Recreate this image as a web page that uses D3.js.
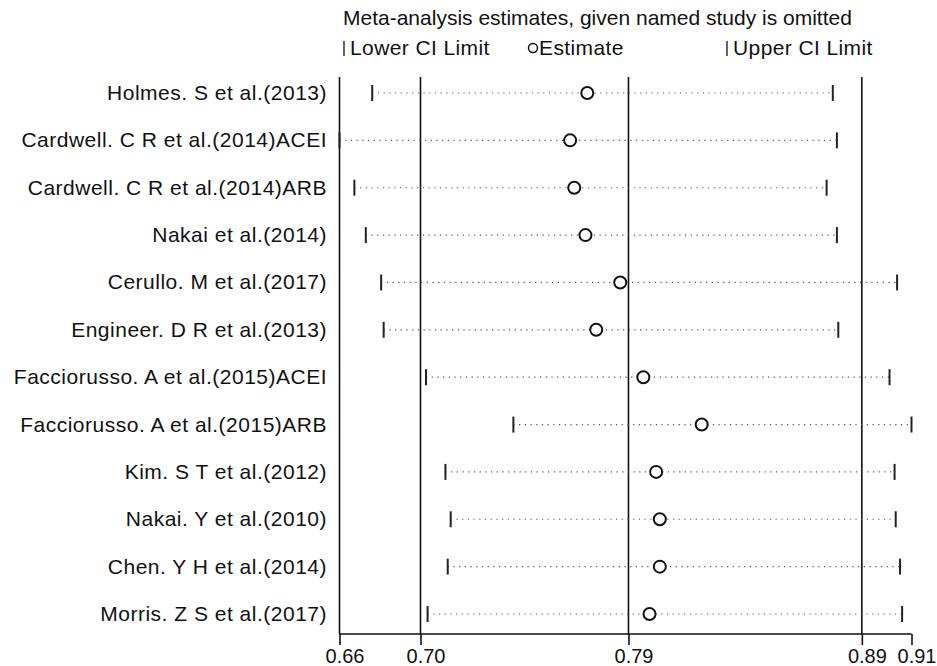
<!DOCTYPE html>
<html>
<head>
<meta charset="utf-8">
<script src="https://cdn.jsdelivr.net/npm/d3@7/dist/d3.min.js"></script>
<style>
  html, body { margin: 0; padding: 0; background: #fff; }
  svg { display: block; }
  text { font-family: "Liberation Sans", Arial, sans-serif; fill: #111; }
</style>
</head>
<body>
<svg id="chart" width="937" height="666"></svg>
<script>
// ---- data ----
const studies = [
  "Holmes. S et al.(2013)",
  "Cardwell. C R et al.(2014)ACEI",
  "Cardwell. C R et al.(2014)ARB",
  "Nakai et al.(2014)",
  "Cerullo. M et al.(2017)",
  "Engineer. D R et al.(2013)",
  "Facciorusso. A et al.(2015)ACEI",
  "Facciorusso. A et al.(2015)ARB",
  "Kim. S T et al.(2012)",
  "Nakai. Y et al.(2010)",
  "Chen. Y H et al.(2014)",
  "Morris. Z S et al.(2017)"
];
const lowerCI  = [0.6783, 0.6640, 0.6705, 0.6755, 0.6822, 0.6833, 0.7018, 0.7400, 0.7103, 0.7126, 0.7113, 0.7025];
const estimate = [0.7723, 0.7648, 0.7666, 0.7715, 0.7867, 0.7762, 0.7968, 0.8223, 0.8024, 0.8040, 0.8040, 0.7995];
const upperCI  = [0.8796, 0.8814, 0.8769, 0.8814, 0.9077, 0.8820, 0.9044, 0.9140, 0.9066, 0.9071, 0.9090, 0.9099];
// overall estimate with CI (reference lines)
const overall = [0.6994, 0.7903, 0.8923];
// axis ticks: min lower, overall lower, overall estimate, overall upper, max upper
const tickValues = [0.6640, 0.6994, 0.7903, 0.8923, 0.9140];
const tickLabels = ["0.66", "0.70", "0.79", "0.89", "0.91"];
const title = "Meta-analysis estimates, given named study is omitted";

// ---- layout ----
const svg = d3.select("#chart");
const x = d3.scaleLinear().domain([0.6640, 0.9140]).range([339.5, 911.5]);
const y = d3.scalePoint().domain(studies).range([93, 614]);
const plotTop = 77, axisY = 634;
const FS = 21;

// title & legend
svg.append("text").attr("x", 343).attr("y", 25)
  .attr("font-size", FS).text(title);

const leg = svg.append("g");
const legY = 55;
leg.append("line").attr("x1", 344).attr("x2", 344).attr("y1", legY - 14).attr("y2", legY + 1)
  .attr("stroke", "#111").attr("stroke-width", 1.3);
leg.append("text").attr("x", 350).attr("y", legY).attr("font-size", FS)
  .attr("letter-spacing", 0.4).text("Lower CI Limit");
leg.append("circle").attr("cx", 533).attr("cy", legY - 7).attr("r", 4.5)
  .attr("fill", "none").attr("stroke", "#111").attr("stroke-width", 1.5);
leg.append("text").attr("x", 539).attr("y", legY).attr("font-size", FS)
  .attr("letter-spacing", 0.4).text("Estimate");
leg.append("line").attr("x1", 727).attr("x2", 727).attr("y1", legY - 14).attr("y2", legY + 1)
  .attr("stroke", "#111").attr("stroke-width", 1.3);
leg.append("text").attr("x", 733).attr("y", legY).attr("font-size", FS)
  .attr("letter-spacing", 0.4).text("Upper CI Limit");

// axis
const axis = d3.axisBottom(x).tickValues(tickValues)
  .tickFormat((d, i) => tickLabels[i]).tickSize(11).tickPadding(4);
const gAxis = svg.append("g").attr("transform", `translate(0,${axisY})`).call(axis);
gAxis.select(".domain").attr("stroke", "#111").attr("stroke-width", 1.6)
  .attr("d", `M${x.range()[0]},0H${x.range()[1]}`);
gAxis.selectAll(".tick line").attr("stroke", "#111").attr("stroke-width", 1.6);
gAxis.selectAll(".tick text").attr("font-size", 20).attr("fill", "#111").attr("dx", 5)
  .attr("font-family", "Liberation Sans, Arial, sans-serif");

// left frame line (at minimum) and reference lines
svg.append("line").attr("x1", x(tickValues[0])).attr("x2", x(tickValues[0]))
  .attr("y1", plotTop).attr("y2", axisY).attr("stroke", "#111").attr("stroke-width", 1.6);
svg.selectAll("line.ref").data(overall).join("line").attr("class", "ref")
  .attr("x1", d => x(d)).attr("x2", d => x(d))
  .attr("y1", plotTop).attr("y2", axisY)
  .attr("stroke", "#111").attr("stroke-width", 1.6);

// rows
const rows = studies.map((s, i) => ({ s, lo: lowerCI[i], est: estimate[i], hi: upperCI[i] }));
const g = svg.append("g");
g.selectAll("line.ci").data(rows).join("line").attr("class", "ci")
  .attr("x1", d => x(d.lo)).attr("x2", d => x(d.hi))
  .attr("y1", d => y(d.s)).attr("y2", d => y(d.s))
  .attr("stroke", "#555").attr("stroke-width", 1.2).attr("stroke-dasharray", "1.2 4.5");
g.selectAll("line.lo").data(rows).join("line").attr("class", "lo")
  .attr("x1", d => x(d.lo)).attr("x2", d => x(d.lo))
  .attr("y1", d => y(d.s) - 8).attr("y2", d => y(d.s) + 8)
  .attr("stroke", "#222").attr("stroke-width", 2);
g.selectAll("line.hi").data(rows).join("line").attr("class", "hi")
  .attr("x1", d => x(d.hi)).attr("x2", d => x(d.hi))
  .attr("y1", d => y(d.s) - 8).attr("y2", d => y(d.s) + 8)
  .attr("stroke", "#222").attr("stroke-width", 2);
g.selectAll("circle.est").data(rows).join("circle").attr("class", "est")
  .attr("cx", d => x(d.est)).attr("cy", d => y(d.s)).attr("r", 6)
  .attr("fill", "#fff").attr("stroke", "#111").attr("stroke-width", 2);

// row labels
svg.selectAll("text.lab").data(studies).join("text").attr("class", "lab")
  .attr("x", 327).attr("y", d => y(d) + 7)
  .attr("text-anchor", "end").attr("font-size", FS).attr("letter-spacing", 0.5).text(d => d);
</script>
</body>
</html>
